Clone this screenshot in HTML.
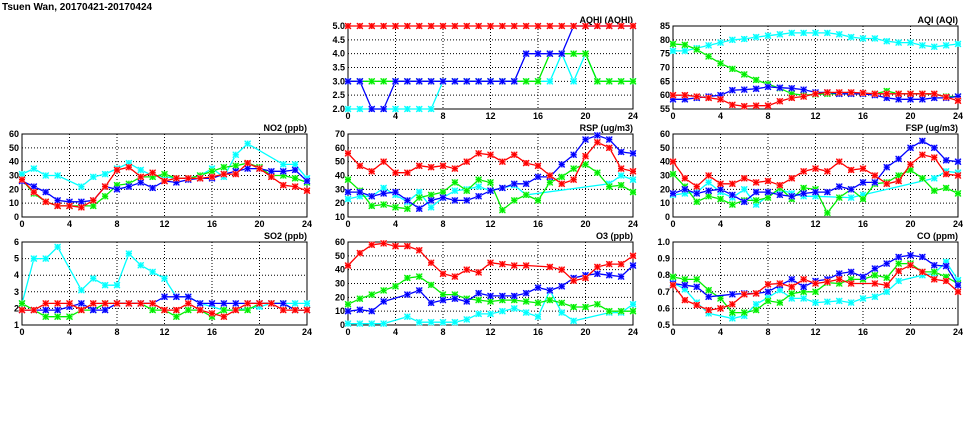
<!DOCTYPE html>
<html><head><meta charset="utf-8"><style>
html,body{margin:0;padding:0;background:#fff;width:975px;height:447px;overflow:hidden}
svg{display:block}
text{font-family:"Liberation Sans",sans-serif;font-size:9px;font-weight:bold;fill:#000}
</style></head><body>
<svg id="chart" width="975" height="447" viewBox="0 0 975 447" xmlns="http://www.w3.org/2000/svg">
<text x="2" y="10" style="font-size:10px">Tsuen Wan, 20170421-20170424</text>
</svg>
<script>
const hours=[0,1,2,3,4,5,6,7,8,9,10,11,12,13,14,15,16,17,18,19,20,21,22,23,24];
const xTicks=[0,4,8,12,16,20,24];
const N=null;
// AQHI
const aqhiTicks=[2.0,2.5,3.0,3.5,4.0,4.5,5.0];
const aqhiCyan=[2,2,2,2,2,2,2,2,3,3,3,3,3,3,3,3,3,3,4,3,4,3,3,3,3];
const aqhiGreen=[3,3,3,3,3,3,3,3,3,3,3,3,3,3,3,3,3,4,4,4,4,3,3,3,3];
const aqhiBlue=[3,3,2,2,3,3,3,3,3,3,3,3,3,3,3,4,4,4,4,5,5,5,5,5,5];
const aqhiRed=[5,5,5,5,5,5,5,5,5,5,5,5,5,5,5,5,5,5,5,5,5,5,5,5,5];
// AQI
const aqiTicks=[55,60,65,70,75,80,85];
const aqiCyan=[76,76,77,78,79,80,80.3,81,81.5,82,82.5,82.5,82.5,82.5,82,81,80.5,80.5,79.5,79,79,78,77.5,78,78.5];
const aqiGreen=[78.5,78.2,76.5,74,71.5,69.5,67.5,65.5,64,62.5,60.5,60,60.3,60.5,60.5,60.5,60.5,60.5,61.5,60.5,60.5,60.5,60.3,59.5,59.5];
const aqiBlue=[58.5,58.5,59,59.5,60,61.8,62,62.3,63,62.7,62.5,62,61,61,60.5,60.5,60.5,60,59,58.5,58.5,58.5,59,59,59.5];
const aqiRed=[60,60,59.5,59,58.5,56.5,56,56.2,56.2,57.8,59,59.5,60.5,61,61,61,60.8,60.5,60.5,60.5,60.5,60.5,60.5,59.3,58];
// NO2
const no2Ticks=[0,10,20,30,40,50,60];
const no2Cyan=[31,35,30,30,N,22,29,31,35,39,34,30,29,28,28,30,35,29,45,53,N,N,38,38,28];
const no2Green=[27,17,11,8,8,8,8,15,23,24,29,29,31,28,28,30,33,36,37,39,36,30,30,28,25];
const no2Blue=[26,22,18,12,11,11,12,22,20,22,25,21,26,25,27,28,28,31,33,35,35,33,33,34,26];
const no2Red=[27,18,11,8,8,7,12,22,34,36,29,32,26,28,28,28,29,31,31,39,35,29,23,22,19];
// RSP
const rspTicks=[10,20,30,40,50,60,70];
const rspCyan=[23,25,25,31,26,21,28,17,24,29,30,32,29,31,33,26,N,N,N,N,N,N,34,40,37];
const rspGreen=[37,29,18,19,17,16,24,26,28,35,29,37,35,15,22,26,22,35,39,45,48,42,32,33,28];
const rspBlue=[28,28,25,27,28,22,16,22,24,22,22,25,29,31,34,34,39,39,48,55,66,69,66,57,56];
const rspRed=[56,47,43,50,42,42,47,46,47,45,50,56,55,50,55,49,47,40,34,37,54,64,60,45,43];
// FSP
const fspTicks=[0,10,20,30,40,50,60];
const fspCyan=[16,17,18,25,18,14,20,9,15,20,17,15,15,N,N,14,16,N,N,N,N,N,28,33,32];
const fspGreen=[31,22,11,15,13,9,12,12,14,21,13,21,20,3,14,20,13,24,25,30,34,28,19,21,17];
const fspBlue=[17,20,17,19,20,16,11,18,18,16,15,17,18,18,22,20,25,25,36,42,50,55,50,41,40];
const fspRed=[40,28,22,30,24,24,28,25,26,23,28,33,35,33,40,34,35,30,24,26,38,45,43,31,30];
// SO2
const so2Ticks=[1,2,3,4,5,6];
const so2Cyan=[2.3,5,5,5.7,N,3.1,3.8,3.4,3.4,5.3,4.6,4.2,3.8,2.7,2.7,2.3,N,1.9,1.9,N,2.1,2.3,2.3,2.3,2.3];
const so2Green=[2.3,1.9,1.5,1.5,1.5,1.9,1.9,2.3,2.3,2.3,2.3,1.9,1.9,1.5,1.9,1.9,1.5,1.9,1.9,1.9,2.3,2.3,2.3,1.9,1.9];
const so2Blue=[1.9,1.9,1.9,1.9,2.1,2.3,1.9,1.9,2.3,2.3,2.3,2.3,2.7,2.7,2.7,2.3,2.3,2.3,2.3,2.3,2.3,2.3,2.3,1.9,1.9];
const so2Red=[1.9,1.9,2.3,2.3,2.3,1.9,2.3,2.3,2.3,2.3,2.3,2.3,1.9,1.9,2.3,1.9,1.7,1.5,1.9,2.3,2.3,2.3,1.9,1.9,1.9];
// O3
const o3Ticks=[0,10,20,30,40,50,60];
const o3Cyan=[1,1,1,1,N,6,2,2,2,2,4,8,8,10,12,9,6,25,9,3,N,N,9,9,15];
const o3Green=[15,19,22,25,28,34,35,29,22,22,19,18,17,18,18,17,16,18,16,13,13,15,10,10,10];
const o3Blue=[10,11,10,17,N,22,25,16,18,19,17,23,21,21,21,23,27,25,28,34,36,37,36,35,43];
const o3Red=[43,52,58,59,57,57,54,45,37,35,40,38,45,44,43,43,N,42,40,32,34,42,44,44,50];
// CO
const coTicks=[0.5,0.6,0.7,0.8,0.9,1.0];
const coCyan=[.755,.715,.635,.57,N,.54,.555,.625,.665,.71,.66,.66,.635,.64,.645,.635,.66,.67,.70,.765,N,.80,.81,.88,.77];
const coGreen=[.79,.775,.775,.71,.66,.575,.575,.59,.645,.635,.69,.70,.70,.755,.75,.775,.775,.80,.785,.87,.87,.82,.82,.79,.75];
const coBlue=[.75,.74,.73,.67,N,.685,.69,.69,.70,.74,.775,.73,.765,.775,.81,.82,.79,.84,.87,.91,.92,.91,.86,.855,.74];
const coRed=[.74,.65,.62,.59,.60,.625,.685,.69,.745,.75,.73,.775,.75,.76,.775,.75,N,.75,.74,.825,.86,.82,.775,.765,.70];

const colors={cyan:"#00ffff",green:"#00ee00",blue:"#0000ff",red:"#ff0000"};
const light={cyan:"#aaffff",green:"#aaffaa",blue:"#aaaaff",red:"#ffaaaa"};
const NS="http://www.w3.org/2000/svg";
const svg=document.getElementById('chart');
function mk(tag,attrs,parent){const e=document.createElementNS(NS,tag);for(const k in attrs)e.setAttribute(k,attrs[k]);(parent||svg).appendChild(e);return e;}

function panel(name,title,left,top,ticks,series,dec){
  const W=285,H=83,right=left+W,bottom=top+H;
  const ymin=ticks[0],ymax=ticks[ticks.length-1];
  const xs=h=>left+h/24*W;
  const ys=v=>bottom-(v-ymin)/(ymax-ymin)*H;
  const g=mk('g',{});
  
  
  // grid
  ticks.forEach((t,i)=>{
    const y=ys(t);
    if(i>0&&i<ticks.length-1){const l=mk('line',{x1:left,x2:right,y1:y,y2:y,stroke:"#000","stroke-width":1,"stroke-dasharray":"1,2"},g);
      }
    const tx=mk('text',{x:left-3,y:y+3,"text-anchor":"end"},g);
    
    tx.textContent=t.toFixed(dec);
  });
  xTicks.forEach((t,i)=>{
    const x=xs(t);
    if(i>0&&i<xTicks.length-1){const l=mk('line',{x1:x,x2:x,y1:top,y2:bottom,stroke:"#000","stroke-width":1,"stroke-dasharray":"1,2"},g);
      }
    const tx=mk('text',{x:x,y:bottom+10,"text-anchor":"middle"},g);
    
    tx.textContent=t;
  });
  const fr=mk('rect',{x:left,y:top,width:W,height:H,fill:"none",stroke:"#000","stroke-width":1},g);
  
  const tt=mk('text',{x:right,y:top-3,"text-anchor":"end"},g);
  
  tt.textContent=title;
  series.forEach(([cname,vals])=>{
    const pts=[];vals.forEach((v,i)=>{if(v!==null)pts.push([xs(hours[i]),ys(v)]);});
    const pl=mk('polyline',{points:pts.map(p=>p[0].toFixed(1)+','+p[1].toFixed(1)).join(' '),fill:"none",stroke:colors[cname],"stroke-width":1.3},g);
    
    pts.forEach(p=>{
      const m=mk('g',{},g);
      
      mk('rect',{x:p[0]-3,y:p[1]-3,width:6,height:6,fill:light[cname]},m);
      mk('path',{d:`M${p[0]-3},${p[1]-3}L${p[0]+3},${p[1]+3}M${p[0]+3},${p[1]-3}L${p[0]-3},${p[1]+3}M${p[0]-3},${p[1]}L${p[0]+3},${p[1]}M${p[0]},${p[1]-3}L${p[0]},${p[1]+3}`,stroke:colors[cname],"stroke-width":1.2},m);
    });
  });
}
const C1=22,C2=348,C3=673,R1=26,R2=134,R3=242;
panel('aqhi','AQHI (AQHI)',C2,R1,aqhiTicks,[['cyan',aqhiCyan],['green',aqhiGreen],['blue',aqhiBlue],['red',aqhiRed]],1);
panel('aqi','AQI (AQI)',C3,R1,aqiTicks,[['cyan',aqiCyan],['green',aqiGreen],['blue',aqiBlue],['red',aqiRed]],0);
panel('no2','NO2 (ppb)',C1,R2,no2Ticks,[['cyan',no2Cyan],['green',no2Green],['blue',no2Blue],['red',no2Red]],0);
panel('rsp','RSP (ug/m3)',C2,R2,rspTicks,[['cyan',rspCyan],['green',rspGreen],['blue',rspBlue],['red',rspRed]],0);
panel('fsp','FSP (ug/m3)',C3,R2,fspTicks,[['cyan',fspCyan],['green',fspGreen],['blue',fspBlue],['red',fspRed]],0);
panel('so2','SO2 (ppb)',C1,R3,so2Ticks,[['cyan',so2Cyan],['green',so2Green],['blue',so2Blue],['red',so2Red]],0);
panel('o3','O3 (ppb)',C2,R3,o3Ticks,[['cyan',o3Cyan],['green',o3Green],['blue',o3Blue],['red',o3Red]],0);
panel('co','CO (ppm)',C3,R3,coTicks,[['cyan',coCyan],['green',coGreen],['blue',coBlue],['red',coRed]],1);
</script>
</body></html>
